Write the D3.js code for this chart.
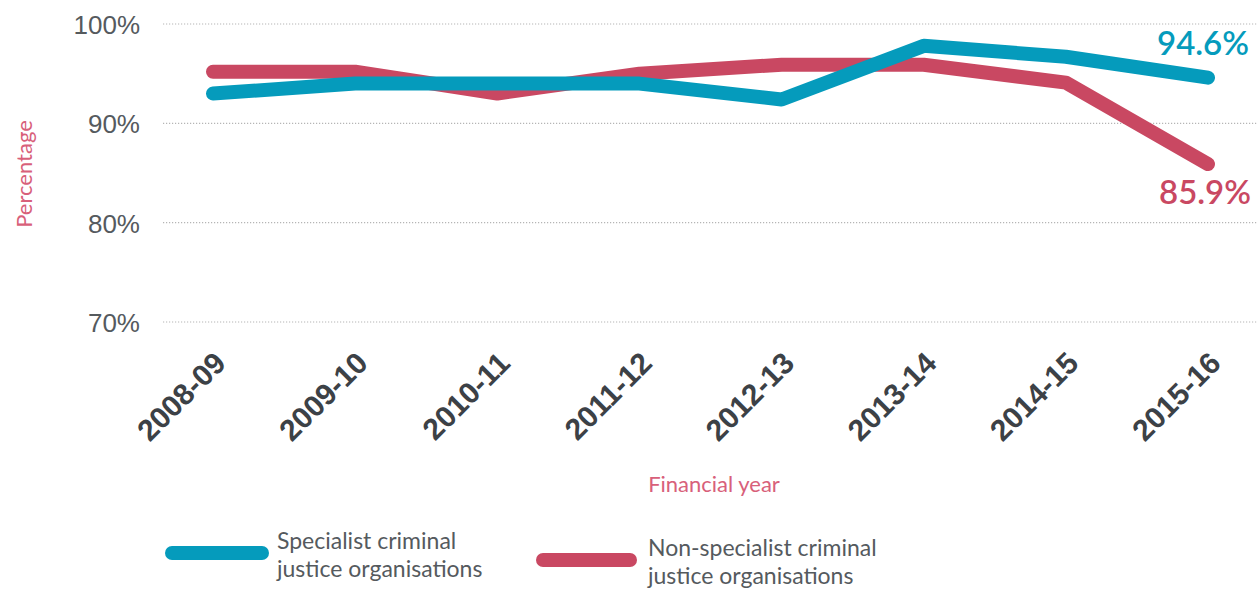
<!DOCTYPE html>
<html>
<head>
<meta charset="utf-8">
<script src="https://cdn.jsdelivr.net/npm/d3@7"></script>
<style>
  html, body { margin: 0; padding: 0; background: #fff; }
  svg { display: block; font-family: Lato, "Open Sans", sans-serif; }
</style>
</head>
<body>
<svg id="chart" width="1258" height="590"></svg>
<script>
// Financial years on the x axis
const years = ["2008-09", "2009-10", "2010-11", "2011-12", "2012-13", "2013-14", "2014-15", "2015-16"];
// Percentage per year for each organisation type
const specialist = [93.0, 94.0, 94.0, 94.0, 92.4, 97.8, 96.7, 94.6];
const nonSpecialist = [95.2, 95.2, 93.0, 95.0, 95.9, 95.9, 94.1, 85.9];
const yTicks = [70, 80, 90, 100];
const seriesNames = [
  ["Specialist criminal", "justice organisations"],
  ["Non-specialist criminal", "justice organisations"]
];

const blue = "#059bbc";
const red = "#c94862";
const pink = "#d8607a";
const grey = "#555a5e";

const svg = d3.select("#chart");

const x = d3.scalePoint().domain(years).range([213, 1208]);
const y = d3.scaleLinear().domain([70, 100]).range([322, 24]);

// Dotted horizontal gridlines
svg.append("g").selectAll("line").data(yTicks).join("line")
  .attr("x1", 163).attr("x2", 1258)
  .attr("y1", d => y(d)).attr("y2", d => y(d))
  .attr("stroke", "#b5b5b5").attr("stroke-width", 1.2)
  .attr("stroke-dasharray", "1.2,1.8");

// Y axis labels
const yAxis = svg.append("g").attr("transform", "translate(140,0)")
  .call(d3.axisLeft(y).tickValues(yTicks).tickSize(0).tickPadding(0).tickFormat(d => d + "%"));
yAxis.select(".domain").remove();
yAxis.selectAll("text")
  .attr("fill", grey).attr("font-size", 26).attr("dy", "0.36em");

// X axis labels, rotated
const xAxis = svg.append("g").attr("transform", "translate(0,322)")
  .call(d3.axisBottom(x).tickSize(0).tickPadding(0));
xAxis.select(".domain").remove();
xAxis.selectAll("text")
  .attr("fill", "#3c4146").attr("font-size", 30).attr("font-weight", "bold")
  .attr("text-anchor", "end").attr("dy", 0).attr("y", 0)
  .attr("transform", "translate(14,43) rotate(-45)");

// Axis titles
svg.append("text").attr("x", 714).attr("y", 492)
  .attr("text-anchor", "middle").attr("fill", pink).attr("font-size", 22)
  .text("Financial year");
svg.append("text")
  .attr("transform", `translate(32,${y(84.9)}) rotate(-90)`)
  .attr("text-anchor", "middle").attr("fill", pink).attr("font-size", 22)
  .text("Percentage");

// Lines
const line = d3.line().x((d, i) => x(years[i])).y(d => y(d));
[[nonSpecialist, red], [specialist, blue]].forEach(([vals, col]) => {
  svg.append("path").datum(vals)
    .attr("d", line).attr("fill", "none")
    .attr("stroke", col).attr("stroke-width", 14)
    .attr("stroke-linecap", "round").attr("stroke-linejoin", "round");
});

// End value labels
const last = years.length - 1;
svg.append("text").attr("x", 1249).attr("y", y(specialist[last]) - 23)
  .attr("text-anchor", "end").attr("fill", blue).attr("font-size", 33).attr("font-weight", 600)
  .text(specialist[last].toFixed(1) + "%");
svg.append("text").attr("x", 1251).attr("y", y(nonSpecialist[last]) + 40)
  .attr("text-anchor", "end").attr("fill", red).attr("font-size", 33).attr("font-weight", 600)
  .text(nonSpecialist[last].toFixed(1) + "%");

// Legend: each label is drawn as two separate lines
const legend = [
  { names: seriesNames[0], color: blue, x1: 172, x2: 262, ly: 553, tx: 277, ty: 549 },
  { names: seriesNames[1], color: red, x1: 543, x2: 630, ly: 560, tx: 648, ty: 556 }
];
legend.forEach(l => {
  svg.append("line")
    .attr("x1", l.x1).attr("x2", l.x2).attr("y1", l.ly).attr("y2", l.ly)
    .attr("stroke", l.color).attr("stroke-width", 14).attr("stroke-linecap", "round");
  l.names.forEach((n, i) => {
    svg.append("text").attr("x", l.tx).attr("y", l.ty + i * 28)
      .attr("fill", grey).attr("font-size", 23).text(n);
  });
});
</script>
</body>
</html>
